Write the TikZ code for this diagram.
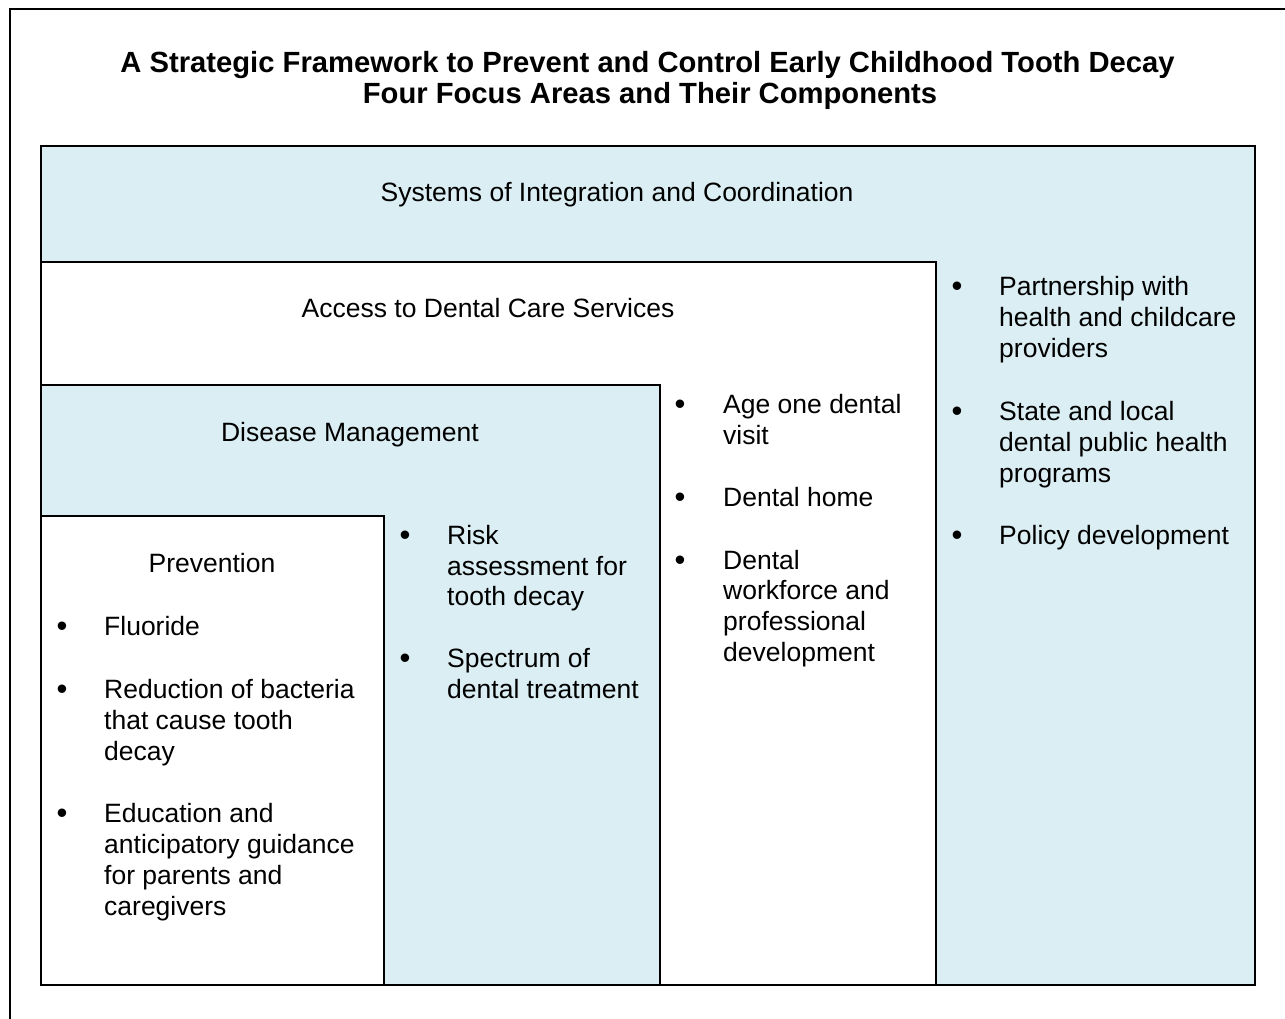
\documentclass[tikz,border=0pt]{standalone}
\usepackage{fontspec}
\setmainfont{Liberation Sans}
\definecolor{paleblue}{HTML}{DAEEF3}
\tikzset{
  box/.style={draw=black, line width=2pt},
  bluebox/.style={box, fill=paleblue},
  whitebox/.style={box, fill=white},
  body/.style={font=\fontsize{26.5}{30.8}\selectfont, inner sep=0pt, anchor=base west},
  head/.style={font=\fontsize{26.5}{30.8}\selectfont, inner sep=0pt, anchor=base},
  ttl/.style={font=\bfseries\fontsize{29.2}{32}\selectfont, inner sep=0pt, anchor=base},
  bul/.style={font=\fontsize{31}{34}\selectfont, inner sep=0pt, anchor=base, yshift=-1.5pt},
}
\begin{document}
\begin{tikzpicture}[x=1pt,y=-1pt]
\useasboundingbox (0,0) rectangle (1285,1019);
\fill[white] (0,0) rectangle (1285,1019);
\draw[line width=2pt] (1285,9) -- (10,9) -- (10,1019);

% title
\node[ttl] (t1) at (647.5,72.5) {A Strategic Framework to Prevent and Control Early Childhood Tooth Decay};
\node[ttl] (t2) at (650,103.5) {Four Focus Areas and Their Components};

% nested areas
\path[bluebox] (41,146) rectangle (1255,985);
\path[whitebox] (41,262) rectangle (936,985);
\path[bluebox] (41,385) rectangle (660,985);
\path[whitebox] (41,516) rectangle (384,985);

% headings
\node[head] (hsys) at (617,202) {Systems of Integration and Coordination};
\node[head] (hacc) at (488,317) {Access to Dental Care Services};
\node[head] (hdis) at (350,441) {Disease Management};
\node[head] (hpre) at (212,572) {Prevention};

% Prevention items
\node[bul] (pb1) at (62,635) {•};
\node[body] (p1a) at (104,635) {Fluoride};
\node[bul] (pb2) at (62,698) {•};
\node[body] (p2a) at (104,698) {Reduction of bacteria};
\node[body] (p2b) at (104,729) {that cause tooth};
\node[body] (p2c) at (104,760) {decay};
\node[bul] (pb3) at (62,822) {•};
\node[body] (p3a) at (104,822) {Education and};
\node[body] (p3b) at (104,853) {anticipatory guidance};
\node[body] (p3c) at (104,884) {for parents and};
\node[body] (p3d) at (104,915) {caregivers};

% Disease management items
\node[bul] (db1) at (405,544) {•};
\node[body] (d1a) at (447,544) {Risk};
\node[body] (d1b) at (447,575) {assessment for};
\node[body] (d1c) at (447,605) {tooth decay};
\node[bul] (db2) at (405,667) {•};
\node[body] (d2a) at (447,667) {Spectrum of};
\node[body] (d2b) at (447,698) {dental treatment};

% Access items
\node[bul] (ab1) at (680,413) {•};
\node[body] (a1a) at (723,413) {Age one dental};
\node[body] (a1b) at (723,444) {visit};
\node[bul] (ab2) at (680,506) {•};
\node[body] (a2a) at (723,506) {Dental home};
\node[bul] (ab3) at (680,569) {•};
\node[body] (a3a) at (723,569) {Dental};
\node[body] (a3b) at (723,599) {workforce and};
\node[body] (a3c) at (723,630) {professional};
\node[body] (a3d) at (723,661) {development};

% Systems items
\node[bul] (sb1) at (957,295) {•};
\node[body] (s1a) at (999,295) {Partnership with};
\node[body] (s1b) at (999,326) {health and childcare};
\node[body] (s1c) at (999,357) {providers};
\node[bul] (sb2) at (957,420) {•};
\node[body] (s2a) at (999,420) {State and local};
\node[body] (s2b) at (999,451) {dental public health};
\node[body] (s2c) at (999,482) {programs};
\node[bul] (sb3) at (957,544) {•};
\node[body] (s3a) at (999,544) {Policy development};
\end{tikzpicture}
\end{document}
